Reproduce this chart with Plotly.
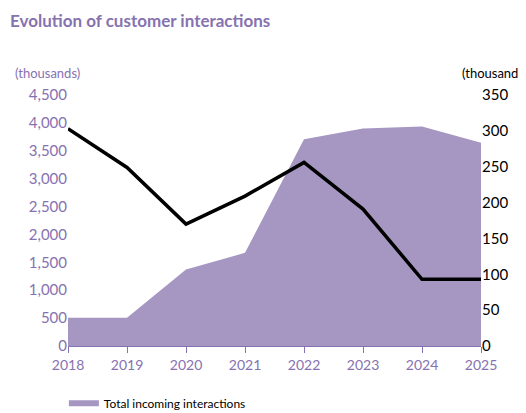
import plotly.graph_objects as go

years = [2018, 2019, 2020, 2021, 2022, 2023, 2024, 2025]
total_interactions = [505, 505, 1370, 1670, 3705, 3900, 3935, 3645]
requests_complaints = [303, 249, 170, 209, 256, 191, 93, 93]

purple = "#8672b0"
fill = "#a596c2"
font = "Lato, Open Sans, sans-serif"

fig = go.Figure()
fig.add_trace(go.Scatter(x=years, y=total_interactions, mode="none", fill="tozeroy",
                         fillcolor=fill, name="Total incoming interactions", yaxis="y"))
fig.add_trace(go.Scatter(x=years, y=requests_complaints, mode="lines",
                         line=dict(color="black", width=3.5), name="Requests and complaints", yaxis="y2"))

fig.update_layout(
    width=526, height=413, plot_bgcolor="white", paper_bgcolor="white",
    margin=dict(l=60, r=53, t=87, b=75, autoexpand=False),
    font=dict(family=font, size=14),
    xaxis=dict(range=[2018, 2025], tickvals=years, showgrid=False, zeroline=False, automargin=False,
               showline=True, linecolor=purple, ticks="outside", tickcolor=purple,
               ticklen=6, tickfont=dict(color=purple, size=14)),
    yaxis=dict(range=[0, 4500], dtick=500, tickformat=",", showgrid=False, zeroline=False,
               automargin=False, tickfont=dict(color=purple, size=15)),
    yaxis2=dict(range=[0, 350], dtick=50, overlaying="y", side="right", showgrid=False,
                automargin=False, zeroline=False, tickfont=dict(color="black", size=15)),
    showlegend=True,
    legend=dict(orientation="h", x=-0.01, y=-0.17, xanchor="left", yanchor="top",
                entrywidth=240, entrywidthmode="pixels", font=dict(size=12, color="black")),
    annotations=[
        dict(text="<b>Evolution of customer interactions</b>", x=0, y=1, xref="paper", yref="paper",
             xanchor="left", yanchor="top", xshift=-60, yshift=87, showarrow=False,
             font=dict(color=purple, size=17)),
        dict(text="(thousands)", x=0, y=1, xref="paper", yref="paper", xanchor="left",
             yanchor="bottom", xshift=-55, yshift=12, showarrow=False,
             font=dict(color=purple, size=13)),
        dict(text="(thousands)", x=1, y=1, xref="paper", yref="paper", xanchor="right",
             yanchor="bottom", xshift=48, yshift=12, showarrow=False,
             font=dict(color="black", size=13)),
    ],
)
fig.write_html("out.html")
